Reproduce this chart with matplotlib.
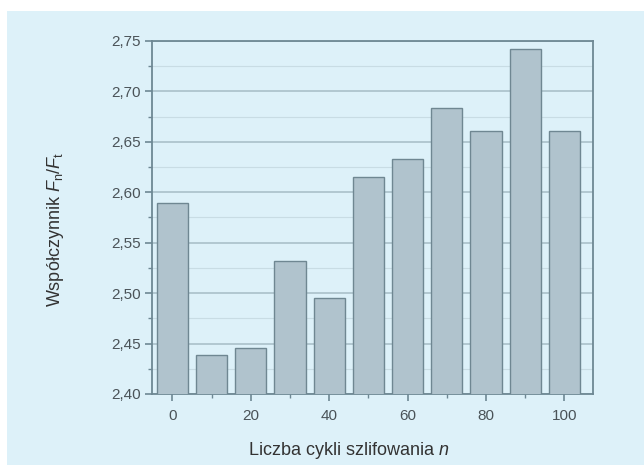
import matplotlib
matplotlib.use('Agg')
import matplotlib.pyplot as plt
from matplotlib.ticker import MultipleLocator, FuncFormatter
from matplotlib.patches import Rectangle

plt.rcParams['font.family'] = ['Liberation Sans', 'DejaVu Sans']
plt.rcParams['mathtext.fontset'] = 'custom'
plt.rcParams['mathtext.rm'] = 'Liberation Sans'
plt.rcParams['mathtext.it'] = 'Liberation Sans:italic'

# liczba cykli i wartości współczynnika Fn/Ft
cycles = [0, 10, 20, 30, 40, 50, 60, 70, 80, 90, 100]
ratio = [2.589, 2.439, 2.446, 2.532, 2.495, 2.615, 2.633, 2.684, 2.661, 2.742, 2.661]

bg = '#ddf1f9'
dark = '#6e8894'
text_c = '#4a5358'

fig = plt.figure(figsize=(6.44, 4.65), dpi=100)
fig.patch.set_facecolor('white')
fig.patches.append(Rectangle((7/644, 0), 1, 1 - 11/465, transform=fig.transFigure,
                             facecolor=bg, edgecolor='none', zorder=-10))

ax = fig.add_axes([152/644, 1 - 394/465, (593-152)/644, (394-41)/465])
ax.set_facecolor(bg)

ax.bar(cycles, ratio, width=8, bottom=0, color='#b0c3cd', edgecolor='#6f8792',
       linewidth=1.0, zorder=3)

ax.set_xlim(-5.2, 107.3)
ax.set_ylim(2.40, 2.75)

ax.xaxis.set_major_locator(MultipleLocator(20))
ax.xaxis.set_minor_locator(MultipleLocator(10))
ax.yaxis.set_major_locator(MultipleLocator(0.05))
ax.yaxis.set_minor_locator(MultipleLocator(0.025))
ax.yaxis.set_major_formatter(FuncFormatter(lambda v, p: f'{v:.2f}'.replace('.', ',')))

ax.grid(axis='y', which='major', color='#aac0ca', linewidth=1.2, zorder=0)
ax.grid(axis='y', which='minor', color='#c8dce4', linewidth=0.8, zorder=0)

for s in ax.spines.values():
    s.set_color(dark)
    s.set_linewidth(1.3)

ax.tick_params(which='major', direction='out', length=5, width=1.2, color=dark,
               labelsize=11, labelcolor=text_c)
ax.tick_params(which='minor', direction='out', length=3, width=1, color=dark)
ax.tick_params(axis='x', pad=6)
ax.tick_params(axis='y', pad=3)

ax.set_xlabel('Liczba cykli szlifowania $n$', fontsize=13, color='#333333')
ax.set_ylabel('Współczynnik $F_\\mathrm{n}/F_\\mathrm{t}$', fontsize=13, color='#333333')
ax.xaxis.set_label_coords(0.4456, -0.13)
ax.yaxis.set_label_coords(-0.194, 0.467)

fig.savefig('out.png', dpi=100, facecolor=fig.get_facecolor())
